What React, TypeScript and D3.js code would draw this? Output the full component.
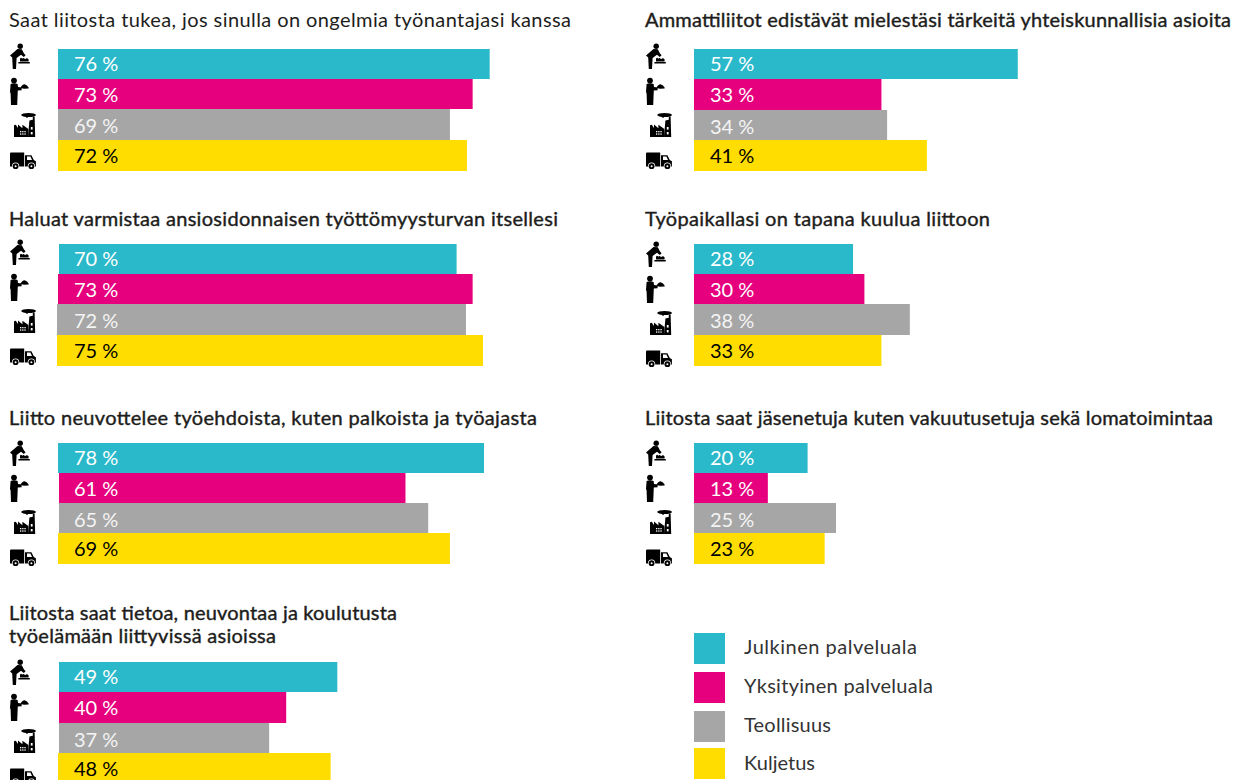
import React from "react";
import * as d3 from "d3";

const panelTitles: string[][] = [
  ["Saat liitosta tukea, jos sinulla on ongelmia työnantajasi kanssa"],
  ["Haluat varmistaa ansiosidonnaisen työttömyysturvan itsellesi"],
  ["Liitto neuvottelee työehdoista, kuten palkoista ja työajasta"],
  ["Liitosta saat tietoa, neuvontaa ja koulutusta", "työelämään liittyvissä asioissa"],
  ["Ammattiliitot edistävät mielestäsi tärkeitä yhteiskunnallisia asioita"],
  ["Työpaikallasi on tapana kuulua liittoon"],
  ["Liitosta saat jäsenetuja kuten vakuutusetuja sekä lomatoimintaa"],
];
const seriesNames = ["Julkinen palveluala", "Yksityinen palveluala", "Teollisuus", "Kuljetus"];
const julkinen = [76, 70, 78, 49, 57, 28, 20];
const yksityinen = [73, 73, 61, 40, 33, 30, 13];
const teollisuus = [69, 72, 65, 37, 34, 38, 25];
const kuljetus = [72, 75, 69, 48, 41, 33, 23];
// the printed 78 % bar is drawn shorter in the source, as long as about 75
const julkinenDrawn = [76, 70, 75, 49, 57, 28, 20];

const colors = ["#2AB9CA", "#E6007E", "#A6A6A6", "#FFDD00"];
const labelColors = ["#ffffff", "#ffffff", "#f4f4f4", "#000000"];
const ink = "#1d1d1b";
const font = "Lato, 'Open Sans', sans-serif";

// layout of each panel; titleW is the printed width of each title line
const panels = [
  { x: 0, titleY: [27], titleW: [562], barY: [49, 79, 109, 140, 171], barX: [58, 58, 58, 58], iconDy: 0, heavy: 0 },
  { x: 0, titleY: [226], titleW: [549], barY: [244, 274, 304, 335, 366], barX: [59, 58, 57, 57], iconDy: 196, heavy: 0.4 },
  { x: 0, titleY: [425], titleW: [528], barY: [443, 473, 503, 533, 564], barX: [58, 59, 59, 58], iconDy: 397, heavy: 0.4 },
  { x: 0, titleY: [620, 643], titleW: [388, 267], barY: [662, 692, 723, 753, 784], barX: [59, 59, 59, 58], iconDy: 616, heavy: 0.4 },
  { x: 636, titleY: [27], titleW: [586], barY: [49, 79, 110, 140, 171], barX: [58, 58, 58, 58], iconDy: 0, heavy: 0.4 },
  { x: 636, titleY: [226], titleW: [345], barY: [244, 274, 304, 335, 366], barX: [58, 58, 58, 58], iconDy: 198, heavy: 0.4 },
  { x: 636, titleY: [425], titleW: [568], barY: [443, 473, 503, 533, 564], barX: [58, 58, 58, 58], iconDy: 397, heavy: 0.4 },
];
const labelBaseline = [22, 23, 23.5, 23];
const legendY = [633, 672, 711, 748];
const legendTextY = [654, 693, 732, 770];
const legendW = [173, 189, 87, 71];

const w = d3.scaleLinear().domain([0, 100]).range([0, 568]);

function NurseIcon() {
  return (
    <g>
      <circle cx={20.2} cy={46.3} r={2.7} />
      <path d="M17.5 49 L21.8 49.2 L24 53.6 L25.6 55.2 L23.8 57 L21 54.8 L16.6 58 L16 68.9 L12.8 68.9 L12.2 57.4 L10 55.6 Z" />
      <rect x={18.4} y={62} width={11.4} height={1.5} />
      <path d="M20 61.6 L20 58.8 Q21 56.8 22.2 58.8 Q23.6 57.2 25 59.2 Q27 57.2 28.6 59.4 L28.6 61.6 Z" />
    </g>
  );
}
function WaiterIcon() {
  return (
    <g>
      <circle cx={14} cy={80.6} r={2.9} />
      <path d="M10.6 84 Q14 82.6 17.6 84 L18 87 L21.6 87.6 L21.6 90.2 L17.8 90.4 L17.2 105 L11 105 L10.6 93.4 L10 92 Z" />
      <path d="M20.4 88 Q22 84.4 24.6 84.2 Q27.4 85 28.6 87.6 L28.6 88.4 L24 88.8 Z" />
    </g>
  );
}
function FactoryIcon() {
  return (
    <g>
      <ellipse cx={28.6} cy={115} rx={7.4} ry={2} />
      <rect x={26} y={116} width={2} height={1.6} />
      <path d="M32.8 116.4 L34.6 116.4 L35.2 137 L28 137 L29.4 120.6 L32.8 119.8 Z" />
      <path d="M14 137 L14 125.2 L15.8 124.8 L18 128 L18 124.4 L22.4 128.2 L22.4 124.8 L28.4 129 L28.4 137 Z" />
      <g fill="#ffffff">
        <rect x={20} y={131} width={1.3} height={1.3} />
        <rect x={22.2} y={131} width={1.3} height={1.3} />
        <rect x={24.4} y={131} width={1.3} height={1.3} />
        <rect x={20} y={133.4} width={1.3} height={1.3} />
        <rect x={22.2} y={133.4} width={1.3} height={1.3} />
        <rect x={24.4} y={133.4} width={1.3} height={1.3} />
        <rect x={30.8} y={127} width={1.8} height={2.6} />
        <rect x={30.8} y={132} width={1.8} height={2.4} />
      </g>
    </g>
  );
}
function TruckIcon() {
  return (
    <g>
      <path d="M10.6 152.6 L24.2 152.6 L24.2 166.6 L10 166.6 L10 153.2 Z" />
      <path d="M25 155.2 L31.4 155.2 L33.8 160 L35.9 161.2 L35.9 166.6 L25 166.6 Z" />
      <path d="M27 156.6 L30.4 156.6 L32 160 L27 160 Z" fill="#ffffff" />
      {[15.6, 31.4].map((cx) => (
        <g key={cx}>
          <circle cx={cx} cy={166.2} r={3.6} fill="#ffffff" />
          <circle cx={cx} cy={166.2} r={2.9} />
          <circle cx={cx} cy={166.2} r={1} fill="#ffffff" />
        </g>
      ))}
    </g>
  );
}

export default function App() {
  const printed = [julkinen, yksityinen, teollisuus, kuljetus];
  const drawn = [julkinenDrawn, yksityinen, teollisuus, kuljetus];
  return (
    <svg
      width={1244}
      height={780}
      viewBox="0 0 1244 780"
      style={{ position: "absolute", left: 0, top: 0, background: "#fff" }}
      fontFamily={font}
    >
      {panels.map((p, i) => (
        <g key={i}>
          {panelTitles[i].map((line, j) => (
            <text
              key={j}
              x={p.x + 9}
              y={p.titleY[j]}
              fontSize={20}
              fontWeight={400}
              fill={ink}
              stroke={ink}
              strokeWidth={p.heavy}
              textLength={p.titleW[j]}
              lengthAdjust="spacing"
            >
              {line}
            </text>
          ))}
          {drawn.map((vals, s) => {
            const x0 = p.x + p.barX[s];
            const y0 = p.barY[s];
            const h = p.barY[s + 1] - y0;
            return (
              <g key={s}>
                <rect x={x0} y={y0} width={w(vals[i])} height={h} fill={colors[s]} />
                <text x={p.x + 74} y={y0 + labelBaseline[s]} fontSize={20} fontWeight={400} fill={labelColors[s]}>
                  {printed[s][i]} %
                </text>
              </g>
            );
          })}
          <g transform={`translate(${p.x},${p.iconDy})`} fill="#000">
            <NurseIcon />
            <WaiterIcon />
            <FactoryIcon />
            <TruckIcon />
          </g>
        </g>
      ))}
      {seriesNames.map((name, s) => (
        <g key={name}>
          <rect x={694} y={legendY[s]} width={31} height={31} fill={colors[s]} />
          <text x={744} y={legendTextY[s]} fontSize={20} fontWeight={400} fill="#333" textLength={legendW[s]} lengthAdjust="spacing">
            {name}
          </text>
        </g>
      ))}
    </svg>
  );
}
